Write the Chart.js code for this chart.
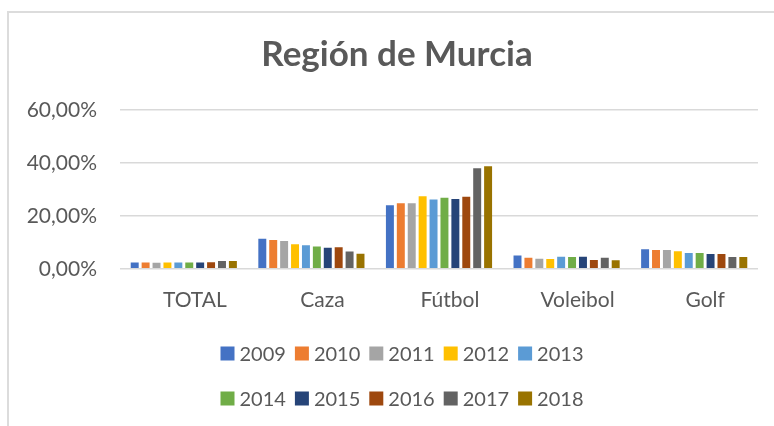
<!DOCTYPE html>
<html>
<head>
<meta charset="utf-8">
<script src="https://cdn.jsdelivr.net/npm/chart.js@4/dist/chart.umd.min.js"></script>
<style>
  html, body { margin: 0; padding: 0; background: #ffffff; }
  #wrap { position: relative; width: 774px; height: 426px; overflow: hidden; }
  #frame { position: absolute; left: 7px; top: 11px; width: 900px; height: 600px;
           border-left: 2px solid #dcdcdc; border-top: 2px solid #dcdcdc; }
  #c { position: absolute; left: 0; top: 0; }
</style>
</head>
<body>
<div id="wrap">
  <div id="frame"></div>
  <canvas id="c" width="774" height="426"></canvas>
</div>
<script>
const title = 'Región de Murcia';
const categories = ['TOTAL', 'Caza', 'Fútbol', 'Voleibol', 'Golf'];
const years = ['2009', '2010', '2011', '2012', '2013', '2014', '2015', '2016', '2017', '2018'];
const yTicks = [0, 20, 40, 60];

const v2009 = [2.4, 11.4, 24.0, 5.0, 7.4];
const v2010 = [2.4, 10.9, 24.8, 4.2, 7.1];
const v2011 = [2.3, 10.5, 24.8, 3.8, 7.1];
const v2012 = [2.4, 9.3, 27.4, 3.7, 6.6];
const v2013 = [2.4, 8.9, 26.2, 4.6, 6.0];
const v2014 = [2.4, 8.4, 26.8, 4.5, 6.0];
const v2015 = [2.4, 8.0, 26.4, 4.6, 5.6];
const v2016 = [2.5, 8.1, 27.2, 3.3, 5.6];
const v2017 = [2.9, 6.5, 38.0, 4.2, 4.5];
const v2018 = [2.9, 5.7, 38.7, 3.2, 4.5];

const seriesValues = [v2009, v2010, v2011, v2012, v2013, v2014, v2015, v2016, v2017, v2018];
const colors = ['#4472C4', '#ED7D31', '#A5A5A5', '#FFC000', '#5B9BD5',
                '#70AD47', '#264478', '#9E480E', '#636363', '#997300'];

const TEXT = '#595959';
const FONT = 'Lato, "Open Sans", sans-serif';

const datasets = years.map((y, i) => ({
  label: y,
  data: seriesValues[i],
  backgroundColor: colors[i],
  borderWidth: 0,
  categoryPercentage: 0.855,
  barPercentage: 0.73
}));

// Legend drawn in two rows of five (like the original)
const rowLegend = {
  id: 'rowLegend',
  afterDraw(chart) {
    const ctx = chart.ctx;
    ctx.save();
    ctx.font = '20px ' + FONT;
    ctx.textBaseline = 'middle';
    ctx.textAlign = 'left';
    const box = 14, gap = 5, sep = 9;
    const perRow = 5;
    const rowsY = [353.5, 398.5];
    const centerX = 402;
    const items = chart.data.datasets;
    for (let r = 0; r < Math.ceil(items.length / perRow); r++) {
      const row = items.slice(r * perRow, r * perRow + perRow);
      const widths = row.map(d => box + gap + ctx.measureText(d.label).width);
      const total = widths.reduce((a, b) => a + b, 0) + sep * (row.length - 1);
      let x = centerX - total / 2;
      const y = rowsY[r];
      row.forEach((d, k) => {
        ctx.fillStyle = d.backgroundColor;
        ctx.fillRect(x, y - box / 2, box, box);
        ctx.fillStyle = TEXT;
        ctx.fillText(d.label, x + box + gap, y + 1);
        x += widths[k] + sep;
      });
    }
    ctx.restore();
  }
};

new Chart(document.getElementById('c'), {
  type: 'bar',
  data: { labels: categories, datasets },
  options: {
    responsive: false,
    animation: false,
    layout: { padding: { left: 20, right: 0, top: 0, bottom: 94 } },
    plugins: {
      legend: { display: false },
      tooltip: { enabled: false },
      title: {
        display: true,
        text: title,
        color: TEXT,
        font: { family: FONT, size: 35, weight: 'bold' },
        padding: { top: 34, bottom: 34 }
      }
    },
    scales: {
      x: {
        grid: { display: false, drawTicks: false },
        border: { display: false },
        ticks: {
          color: TEXT,
          font: { family: FONT, size: 21 },
          padding: 19,
          labelOffset: 11,
          maxRotation: 0,
          autoSkip: false
        }
      },
      y: {
        min: 0,
        max: 60,
        afterBuildTicks(scale) { scale.ticks = yTicks.map(v => ({ value: v })); },
        afterFit(scale) { scale.width = 100; },
        grid: { color: '#d9d9d9', lineWidth: 1.5, drawTicks: false },
        border: { display: false },
        ticks: {
          color: TEXT,
          font: { family: FONT, size: 21 },
          padding: 23,
          callback: v => v.toFixed(2).replace('.', ',') + '%'
        }
      },
      y2: {
        position: 'right',
        display: true,
        grid: { display: false, drawTicks: false },
        border: { display: false },
        ticks: { display: false },
        afterFit(scale) { scale.width = 16; }
      }
    }
  },
  plugins: [rowLegend]
});
</script>
</body>
</html>
